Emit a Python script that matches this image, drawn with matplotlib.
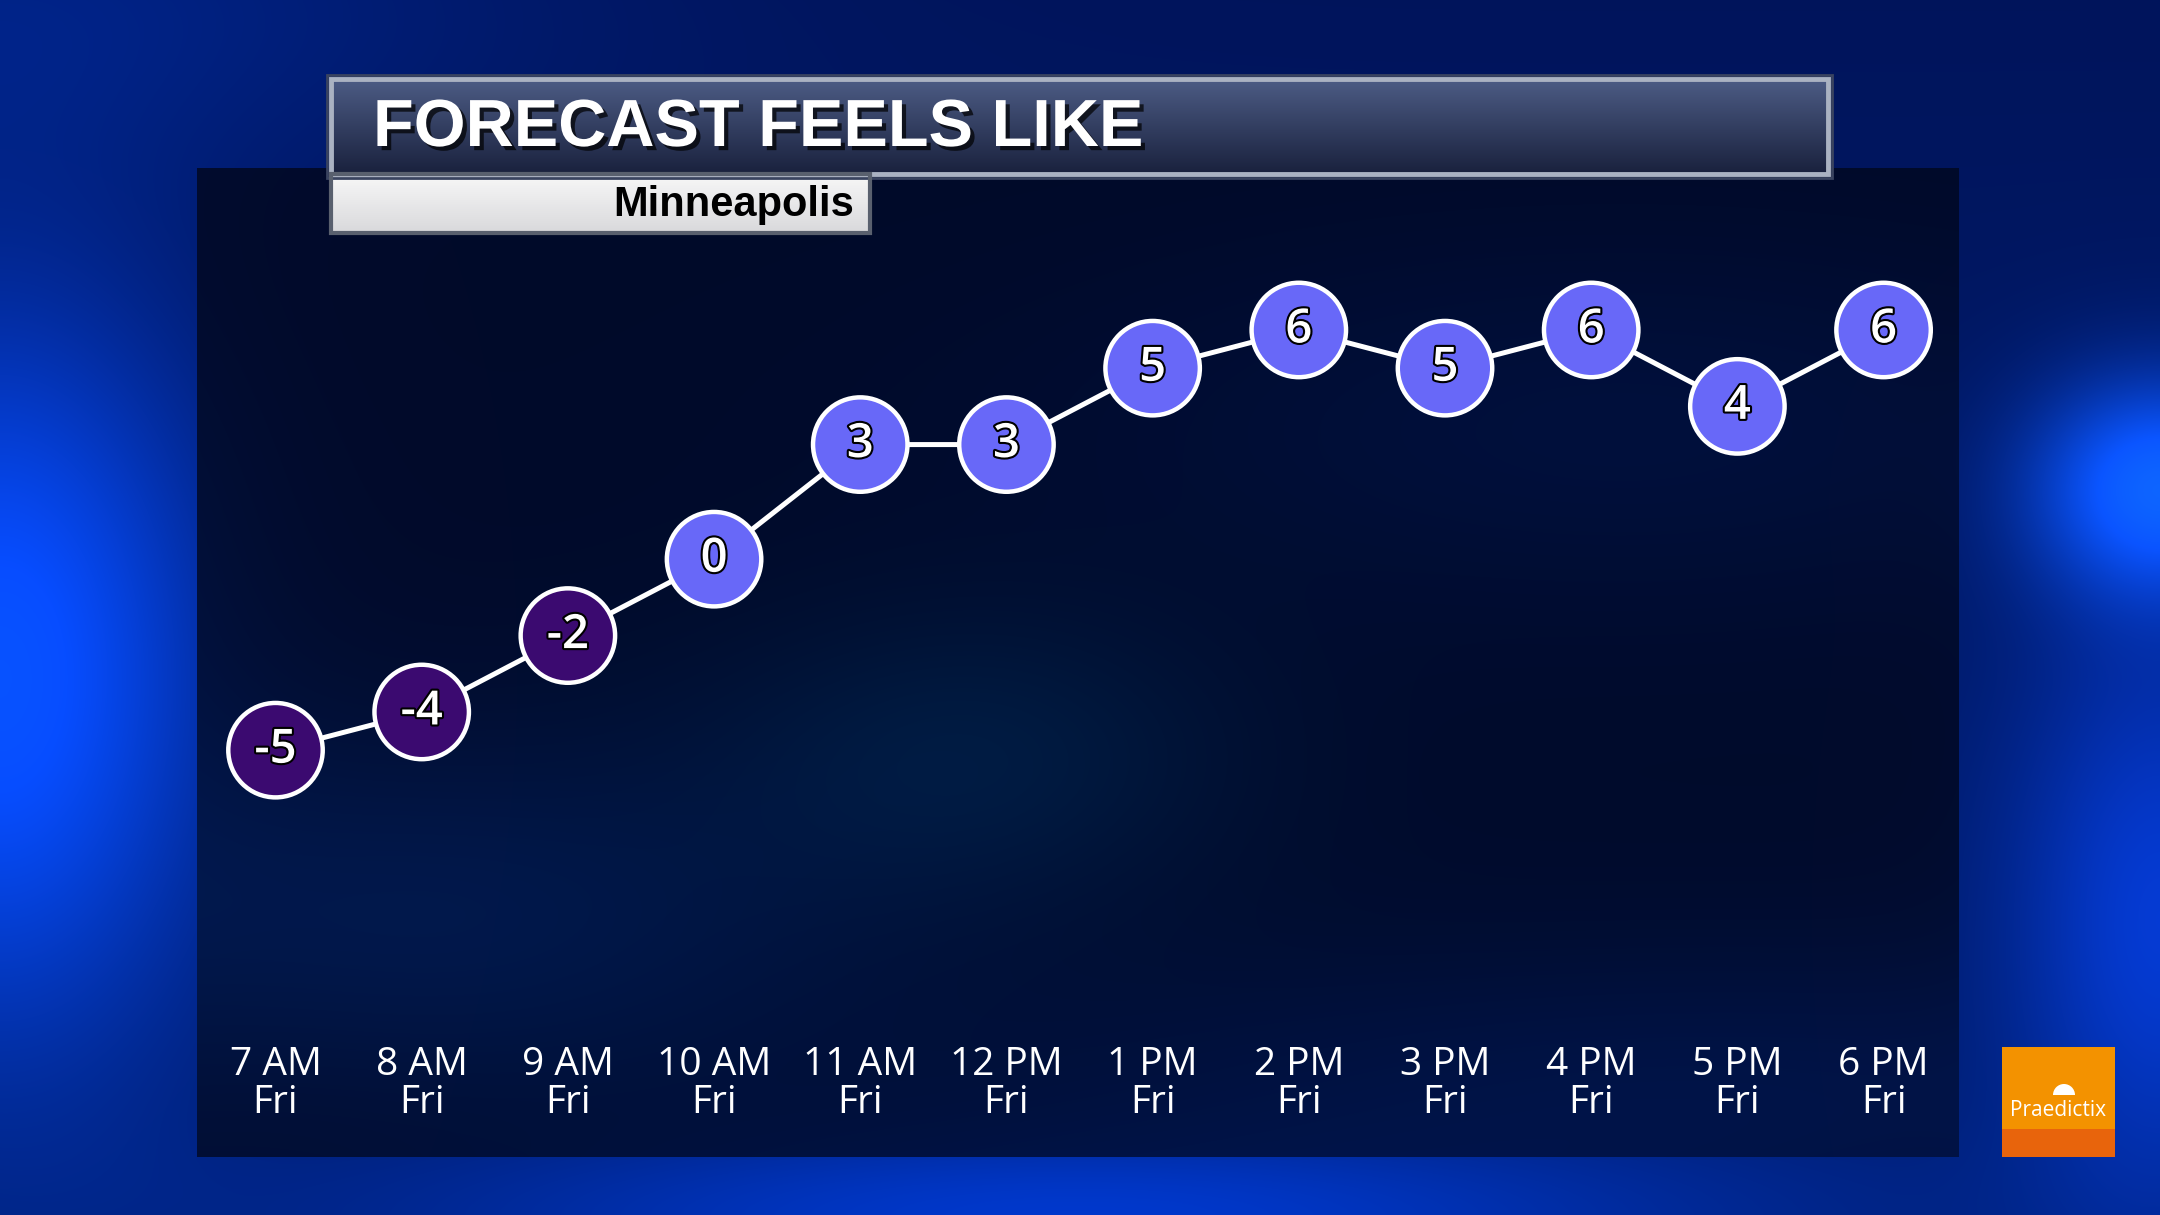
import numpy as np
import matplotlib
matplotlib.use("Agg")
import matplotlib.pyplot as plt
from matplotlib import patheffects as pe
from matplotlib.patches import Rectangle, Wedge
from matplotlib import font_manager as fm

# ---------------- data ----------------
hours = ["7 AM", "8 AM", "9 AM", "10 AM", "11 AM", "12 PM",
         "1 PM", "2 PM", "3 PM", "4 PM", "5 PM", "6 PM"]
days = ["Fri"] * 12
feels_like = [-5, -4, -2, 0, 3, 3, 5, 6, 5, 6, 4, 6]
title = "FORECAST FEELS LIKE"
subtitle = "Minneapolis"

# ---------------- fonts ----------------
names = {f.name for f in fm.fontManager.ttflist}
label_font = "Liberation Sans Narrow" if "Liberation Sans Narrow" in names else "Open Sans"
num_font = "Open Sans" if "Open Sans" in names else "DejaVu Sans"

W, H = 2160, 1215
fig = plt.figure(figsize=(W / 100, H / 100), dpi=100)

# ---------------- background ----------------
yy, xx = np.mgrid[0:H, 0:W]
x = xx / W
y = yy / H
bg = np.zeros((H, W, 3))
base_top = np.array([0.0, 0.08, 0.36])
base_bot = np.array([0.0, 0.12, 0.45])
bg[:] = base_top + (base_bot - base_top) * y[..., None]

def blob(cx, cy, sx, sy, col, amp=1.0):
    g = np.exp(-(((x - cx) / sx) ** 2 + ((y - cy) / sy) ** 2)) * amp
    return g[..., None] * np.array(col)

bg += blob(0.0, 0.55, 0.10, 0.30, [0.03, 0.22, 0.65])
bg += blob(1.0, 0.40, 0.06, 0.09, [0.05, 0.28, 0.70])
bg += blob(1.0, 0.75, 0.07, 0.25, [0.02, 0.12, 0.40])
bg += blob(0.5, 1.0, 0.30, 0.08, [0.0, 0.10, 0.35])
bg += blob(0.0, 0.0, 0.25, 0.15, [0.0, 0.05, 0.15])

# dark panel
px0, px1, py0, py1 = 197, 1959, 168, 1157
panel = bg[py0:py1, px0:px1].copy()
pxn = x[py0:py1, px0:px1]
pyn = y[py0:py1, px0:px1]
dark = np.array([0.005, 0.025, 0.10])
pan = 0.22 * panel + 0.78 * dark
glow = np.exp(-(((pxn - 0.45) / 0.12) ** 2 + ((pyn - 0.62) / 0.12) ** 2))
pan += glow[..., None] * np.array([0.0, 0.06, 0.08])
glow2 = np.exp(-(((pxn - 0.2) / 0.2) ** 2 + ((pyn - 0.75) / 0.15) ** 2))
pan += glow2[..., None] * np.array([0.0, 0.05, 0.12])
swirl = np.exp(-(((pxn - 0.8) / 0.35) ** 2 + ((pyn - 0.9) / 0.12) ** 2))
pan += swirl[..., None] * np.array([0.0, 0.03, 0.10])
swirl2 = np.exp(-(((pxn - 0.75) / 0.25) ** 2 + ((pyn - 0.35) / 0.15) ** 2))
pan += swirl2[..., None] * np.array([0.0, 0.02, 0.07])
bg[py0:py1, px0:px1] = pan
bg = np.clip(bg, 0, 1)

bgax = fig.add_axes([0, 0, 1, 1])
bgax.imshow(bg, extent=[0, W, H, 0], aspect="auto", interpolation="bilinear", zorder=0)

# title box
tx0, tx1, ty0, ty1 = 331, 1828, 79, 174
grad = np.linspace(0, 1, 100)[:, None]
top_c = np.array([0.30, 0.36, 0.52])
bot_c = np.array([0.10, 0.13, 0.24])
tg = top_c + (bot_c - top_c) * grad[..., None]
tg = np.repeat(tg, 2, axis=1)
bgax.imshow(tg, extent=[tx0, tx1, ty1, ty0], aspect="auto", zorder=2)
bgax.add_patch(Rectangle((tx0, ty0), tx1 - tx0, ty1 - ty0, fill=False,
                         edgecolor="#aab2c2", lw=3.5, zorder=3))
bgax.add_patch(Rectangle((tx0 - 4, ty0 - 4), tx1 - tx0 + 8, ty1 - ty0 + 8, fill=False,
                         edgecolor="#3a4460", lw=2, zorder=3))
bgax.text(373, 129, title, color="white", fontsize=48, fontweight="bold",
          family="Liberation Sans", va="center", ha="left", zorder=4,
          path_effects=[pe.withSimplePatchShadow(offset=(3, -3), shadow_rgbFace="black", alpha=0.7)])

# subtitle box
sx0, sx1, sy0, sy1 = 331, 870, 174, 233
sg_top = np.array([0.97, 0.97, 0.97])
sg_bot = np.array([0.85, 0.85, 0.86])
sg = sg_top + (sg_bot - sg_top) * grad[..., None]
sg = np.repeat(sg, 2, axis=1)
bgax.imshow(sg, extent=[sx0, sx1, sy1, sy0], aspect="auto", zorder=2)
bgax.add_patch(Rectangle((sx0, sy0), sx1 - sx0, sy1 - sy0, fill=False,
                         edgecolor="#59606e", lw=3, zorder=3))
bgax.text(854, 205, subtitle, color="black", fontsize=30, fontweight="bold",
          family="Liberation Sans", va="center", ha="right", zorder=4)

# logo
lx0, lx1, ly0, ly1 = 2002, 2115, 1047, 1157
bgax.add_patch(Rectangle((lx0, ly0), lx1 - lx0, 82, facecolor="#f39200", edgecolor="none", zorder=2))
bgax.add_patch(Rectangle((lx0, ly0 + 82), lx1 - lx0, ly1 - ly0 - 82, facecolor="#e8640c",
                         edgecolor="none", zorder=2))
bgax.add_patch(Wedge((2064, 1095), 11, 180, 360, facecolor="white", edgecolor="none", zorder=3))
bgax.text(2058, 1110, "Praedictix", color="white", fontsize=15, family="Open Sans",
          ha="center", va="center", zorder=4)

bgax.set_xlim(0, W)
bgax.set_ylim(H, 0)
bgax.axis("off")

# ---------------- chart ----------------
ax = fig.add_axes([px0 / W, 1 - py1 / H, (px1 - px0) / W, (py1 - py0) / H])
ax.set_facecolor("none")
ax.axis("off")
xs = np.arange(len(feels_like))
ax.set_xlim(-0.537, 11.516)
ax.set_ylim(-15.65, 10.24)

ax.plot(xs, feels_like, color="white", lw=3.6, zorder=2, solid_capstyle="round")
colors = ["#3b0a70" if v < 0 else "#6868f8" for v in feels_like]
ax.scatter(xs, feels_like, s=68 ** 2, c=colors, edgecolors="white", linewidths=3.2, zorder=3)
for xi, v in zip(xs, feels_like):
    ax.text(xi, v, f"{v}", color="white", fontsize=34, family=num_font, fontweight="semibold",
            ha="center", va="center", zorder=4,
            path_effects=[pe.Stroke(linewidth=3, foreground="black"), pe.Normal()])

for xi, h, d in zip(xs, hours, days):
    ax.text(xi, 0.093, h, transform=ax.get_xaxis_transform(), color="white", fontsize=28,
            family=label_font, ha="center", va="center")
    ax.text(xi, 0.055, d, transform=ax.get_xaxis_transform(), color="white", fontsize=28,
            family=label_font, ha="center", va="center")

fig.savefig("out.png", dpi=100)
